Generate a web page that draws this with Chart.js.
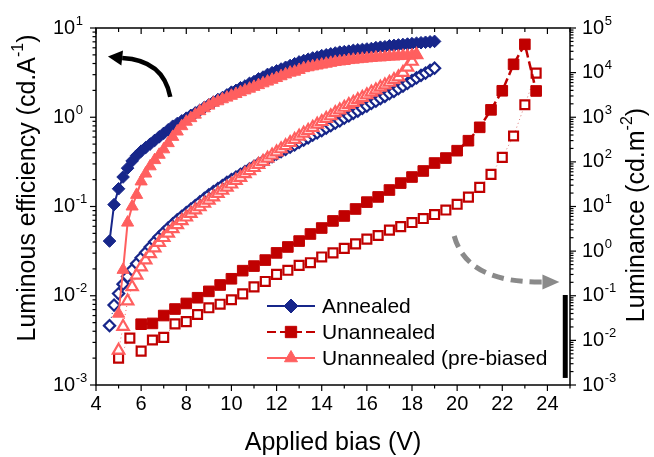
<!DOCTYPE html>
<html>
<head>
<meta charset="utf-8">
<title>Luminous efficiency and luminance vs applied bias</title>
<script src="https://cdn.jsdelivr.net/npm/chart.js@4.4.0/dist/chart.umd.min.js"></script>
<style>
  html, body { margin: 0; padding: 0; background: #fff; }
  #chart { display: block; }
</style>
</head>
<body>
<canvas id="chart" width="654" height="457"></canvas>
<script>
// ===========================
// Data
// ===========================
const annealedBias = [4.6, 4.8, 5.0, 5.2, 5.4, 5.6, 5.8, 6.0, 6.2, 6.4, 6.6, 6.8, 7.0, 7.2, 7.4, 7.6, 7.8, 8.0, 8.2, 8.4,
  8.6, 8.8, 9.0, 9.2, 9.4, 9.6, 9.8, 10.0, 10.2, 10.4, 10.6, 10.8, 11.0, 11.2, 11.4, 11.6, 11.8, 12.0, 12.2, 12.4,
  12.6, 12.8, 13.0, 13.2, 13.4, 13.6, 13.8, 14.0, 14.2, 14.4, 14.6, 14.8, 15.0, 15.2, 15.4, 15.6, 15.8, 16.0, 16.2, 16.4,
  16.6, 16.8, 17.0, 17.2, 17.4, 17.6, 17.8, 18.0, 18.2, 18.4, 18.6, 18.8, 19.0];
const annealedEff = [0.041, 0.105, 0.158, 0.214, 0.269, 0.324, 0.372, 0.417, 0.457, 0.501,
  0.550, 0.603, 0.661, 0.724, 0.794, 0.851, 0.912, 0.977, 1.05, 1.12,
  1.20, 1.29, 1.38, 1.48, 1.58, 1.66, 1.78, 1.91, 2.00, 2.14,
  2.24, 2.40, 2.51, 2.69, 2.82, 3.02, 3.16, 3.31, 3.47, 3.63,
  3.80, 3.98, 4.17, 4.32, 4.47, 4.62, 4.73, 4.90, 5.01, 5.13,
  5.25, 5.37, 5.43, 5.50, 5.62, 5.69, 5.75, 5.82, 5.89, 6.03,
  6.10, 6.17, 6.31, 6.38, 6.46, 6.53, 6.61, 6.68, 6.76, 6.84,
  6.92, 7.00, 7.08];
const annealedLum = [0.0214, 0.0617, 0.112, 0.182, 0.269, 0.380, 0.525, 0.708, 0.933, 1.23,
  1.62, 2.09, 2.63, 3.31, 4.07, 5.01, 6.03, 7.24, 8.71, 10.5,
  12.6, 15.1, 18.2, 21.4, 25.1, 29.5, 34.7, 39.8, 45.7, 52.5,
  60.3, 69.2, 79.4, 91.2, 102, 117, 132, 151, 170, 191,
  214, 240, 275, 309, 347, 398, 447, 501, 575, 646,
  741, 832, 955, 1070, 1230, 1380, 1590, 1780, 2040, 2290,
  2630, 2950, 3390, 3800, 4370, 5010, 5750, 6610, 7590, 8710,
  9770, 11200, 12600];

const unannealedEffBias = [6.0, 6.5, 7.0, 7.5, 8.0, 8.5, 9.0, 9.5, 10.0, 10.5, 11.0, 11.5, 12.0, 12.5, 13.0, 13.5,
  14.0, 14.5, 15.0, 15.5, 16.0, 16.5, 17.0, 17.5, 18.0, 18.5, 19.0, 19.5, 20.0, 20.5, 21.0, 21.5, 22.0, 22.5, 23.0, 23.5];
const unannealedEff = [0.0048, 0.0049, 0.0060, 0.0071, 0.0082, 0.0095, 0.0112, 0.0132, 0.0155, 0.0191,
  0.0215, 0.0251, 0.0302, 0.0352, 0.0410, 0.0492, 0.0574, 0.0689, 0.0783, 0.0938,
  0.112, 0.128, 0.153, 0.183, 0.214, 0.250, 0.307, 0.349, 0.422, 0.546,
  0.771, 1.21, 1.98, 3.92, 6.56, 1.97];
const unannealedLumBias = [5.0, 5.5, 6.0, 6.5, 7.0, 7.5, 8.0, 8.5, 9.0, 9.5, 10.0, 10.5, 11.0, 11.5, 12.0, 12.5,
  13.0, 13.5, 14.0, 14.5, 15.0, 15.5, 16.0, 16.5, 17.0, 17.5, 18.0, 18.5, 19.0, 19.5, 20.0, 20.5, 21.0, 21.5,
  22.0, 22.5, 23.0, 23.5];
const unannealedLum = [0.0040, 0.0112, 0.00575, 0.0102, 0.0117, 0.0234, 0.0263, 0.0380, 0.0537, 0.0646,
  0.0813, 0.110, 0.158, 0.209, 0.302, 0.372, 0.479, 0.550, 0.741, 0.912,
  1.15, 1.45, 1.86, 2.24, 2.95, 3.55, 4.37, 5.37, 6.61, 8.32,
  11.2, 16.2, 26.9, 52.5, 126, 380, 1905, 9772];

const prebiasedBias = [5.0, 5.2, 5.4, 5.6, 5.8, 6.0, 6.2, 6.4, 6.6, 6.8, 7.0, 7.2, 7.4, 7.6, 7.8, 8.0, 8.2, 8.4,
  8.6, 8.8, 9.0, 9.2, 9.4, 9.6, 9.8, 10.0, 10.2, 10.4, 10.6, 10.8, 11.0, 11.2, 11.4, 11.6, 11.8, 12.0, 12.2, 12.4,
  12.6, 12.8, 13.0, 13.2, 13.4, 13.6, 13.8, 14.0, 14.2, 14.4, 14.6, 14.8, 15.0, 15.2, 15.4, 15.6, 15.8, 16.0, 16.2,
  16.4, 16.6, 16.8, 17.0, 17.2, 17.4, 17.6, 17.8, 18.0, 18.2];
const prebiasedEff = [0.0063, 0.0195, 0.066, 0.100, 0.135, 0.191, 0.234, 0.282, 0.331, 0.380,
  0.437, 0.513, 0.603, 0.692, 0.794, 0.891, 0.977, 1.07, 1.17, 1.26,
  1.35, 1.45, 1.51, 1.59, 1.66, 1.74, 1.82, 1.91, 2.00, 2.09,
  2.19, 2.29, 2.40, 2.51, 2.63, 2.75, 2.88, 3.02, 3.16, 3.24,
  3.39, 3.55, 3.63, 3.72, 3.80, 3.89, 3.98, 4.07, 4.17, 4.22,
  4.27, 4.37, 4.42, 4.47, 4.52, 4.57, 4.62, 4.68, 4.68, 4.73,
  4.79, 4.79, 4.84, 4.90, 4.90, 4.96, 5.01];
const prebiasedLum = [0.0060, 0.0204, 0.0759, 0.158, 0.288, 0.437, 0.631, 0.871, 1.17, 1.55,
  2.00, 2.51, 3.16, 3.89, 4.79, 5.75, 6.92, 8.32, 9.77, 11.7,
  13.8, 16.2, 19.5, 22.9, 26.9, 31.6, 38.0, 44.7, 53.7, 63.1,
  74.1, 87.1, 102, 120, 141, 166, 195, 229, 269, 316,
  372, 437, 501, 589, 692, 794, 933, 1070, 1260, 1450,
  1660, 1910, 2140, 2450, 2750, 3160, 3630, 4070, 4680, 5250,
  6030, 6920, 7940, 10000, 13200, 17800, 25100];

// tick labels
const xTicks = [4, 6, 8, 10, 12, 14, 16, 18, 20, 22, 24];
const effExponents = [-3, -2, -1, 0, 1];
const lumExponents = [-3, -2, -1, 0, 1, 2, 3, 4, 5];
const seriesLabels = ["Annealed", "Unannealed", "Unannealed (pre-biased"];

// ===========================
// Styles
// ===========================
const NAVY = "#17268a";
const DARKRED = "#c00000";
const SALMON = "#ff5f5f";
const FONT = '"Liberation Sans", Arial, sans-serif';

function pts(xs, ys) {
    return xs.map((x, i) => ({ x: x, y: ys[i] }));
}

// ===========================
// Helper drawing functions
// ===========================
function drawMarker(ctx, style, x, y, r) {
    ctx.beginPath();
    if (style === "rectRot") {
        ctx.moveTo(x - r, y); ctx.lineTo(x, y - r); ctx.lineTo(x + r, y); ctx.lineTo(x, y + r);
    } else if (style === "rect") {
        const s = r * Math.SQRT1_2;
        ctx.rect(x - s, y - s, 2 * s, 2 * s);
    } else {
        ctx.moveTo(x, y - r); ctx.lineTo(x + 0.866 * r, y + 0.5 * r); ctx.lineTo(x - 0.866 * r, y + 0.5 * r);
    }
    ctx.closePath();
    ctx.fill();
    ctx.stroke();
}

function powerLabel(ctx, x, y, exp) {
    ctx.textAlign = "left";
    ctx.textBaseline = "middle";
    ctx.font = "20px " + FONT;
    ctx.fillText("10", x, y);
    const w = ctx.measureText("10").width;
    ctx.font = "13px " + FONT;
    ctx.fillText(String(exp), x + w + 0.5, y - 7);
}

function supTitle(ctx, cx, cy, pre, sup, post, size) {
    const big = size + "px " + FONT, small = Math.round(size * 0.62) + "px " + FONT;
    ctx.save();
    ctx.translate(cx, cy);
    ctx.rotate(-Math.PI / 2);
    ctx.textAlign = "left";
    ctx.textBaseline = "middle";
    ctx.font = big;
    const w1 = ctx.measureText(pre).width, w3 = ctx.measureText(post).width;
    ctx.font = small;
    const w2 = ctx.measureText(sup).width;
    let x = -(w1 + w2 + w3) / 2;
    ctx.font = big; ctx.fillText(pre, x, 0); x += w1;
    ctx.font = small; ctx.fillText(sup, x, -size * 0.36); x += w2;
    ctx.font = big; ctx.fillText(post, x, 0);
    ctx.restore();
}

function curvedArrow(ctx, p0, p1, p2, tip, color, width, dash, head) {
    ctx.save();
    ctx.strokeStyle = color;
    ctx.fillStyle = color;
    ctx.lineWidth = width;
    ctx.setLineDash(dash);
    ctx.beginPath();
    ctx.moveTo(p0.x, p0.y);
    ctx.quadraticCurveTo(p1.x, p1.y, p2.x, p2.y);
    ctx.stroke();
    ctx.setLineDash([]);
    const ang = Math.atan2(tip.y - p2.y, tip.x - p2.x);
    ctx.beginPath();
    ctx.moveTo(tip.x, tip.y);
    ctx.lineTo(p2.x + Math.sin(ang) * head, p2.y - Math.cos(ang) * head);
    ctx.lineTo(p2.x - Math.sin(ang) * head, p2.y + Math.cos(ang) * head);
    ctx.closePath();
    ctx.fill();
    ctx.restore();
}

// ===========================
// Frame, ticks, labels, legend, arrows
// ===========================
const decorPlugin = {
    id: "decor",
    afterDraw(chart) {
        const ctx = chart.ctx;
        const a = chart.chartArea;
        const sx = chart.scales.x, sy = chart.scales.y, sr = chart.scales.y2;
        ctx.save();
        ctx.strokeStyle = "#000";
        ctx.fillStyle = "#000";
        ctx.lineWidth = 1.5;
        ctx.strokeRect(a.left, a.top, a.right - a.left, a.bottom - a.top);

        const line = (x1, y1, x2, y2) => { ctx.beginPath(); ctx.moveTo(x1, y1); ctx.lineTo(x2, y2); ctx.stroke(); };
        ctx.lineWidth = 1.2;

        // x ticks: bottom outward, top inward
        for (let v = sx.min; v <= sx.max; v++) {
            const px = sx.getPixelForValue(v);
            const major = xTicks.includes(v);
            line(px, a.bottom, px, a.bottom + (major ? 6 : 3.5));
            line(px, a.top, px, a.top + (major ? 6 : 4));
        }
        // log ticks left and right, outward
        const logTicks = (scale, exps, x0, dir) => {
            exps.forEach((e, i) => {
                const p = scale.getPixelForValue(Math.pow(10, e));
                line(x0, p, x0 + dir * 6, p);
                if (i < exps.length - 1) {
                    for (let m = 2; m <= 9; m++) {
                        const q = scale.getPixelForValue(m * Math.pow(10, e));
                        line(x0, q, x0 + dir * 3.5, q);
                    }
                }
            });
        };
        logTicks(sy, effExponents, a.left, -1);
        logTicks(sr, lumExponents, a.right, 1);

        // tick labels
        ctx.font = "20px " + FONT;
        ctx.textAlign = "center";
        ctx.textBaseline = "middle";
        xTicks.forEach(v => ctx.fillText(String(v), sx.getPixelForValue(v), a.bottom + 19));
        effExponents.forEach(e => powerLabel(ctx, a.left - 43, sy.getPixelForValue(Math.pow(10, e)), e));
        lumExponents.forEach(e => powerLabel(ctx, a.right + 12, sr.getPixelForValue(Math.pow(10, e)), e));

        // axis titles
        ctx.font = "25px " + FONT;
        ctx.textAlign = "center";
        ctx.fillText("Applied bias (V)", (a.left + a.right) / 2, 443);
        supTitle(ctx, 28, 188, "Luminous efficiency (cd.A", "-1", ")", 25);
        supTitle(ctx, 637, 215, "Luminance (cd.m", "-2", ")", 25);

        // arrows (placed in data units)
        const P = (s, xv, yv) => ({ x: sx.getPixelForValue(xv), y: s.getPixelForValue(yv) });
        curvedArrow(ctx, P(sy, 7.29, 1.69), P(sy, 6.98, 4.37), P(sy, 5.16, 4.61), P(sy, 4.53, 4.8),
            "#000", 4.5, [], 7.5);
        curvedArrow(ctx, P(sr, 19.87, 2.18), P(sr, 20.44, 0.193), P(sr, 23.78, 0.203), P(sr, 24.53, 0.203),
            "#8a8a8a", 5, [12, 7], 7.5);

        // black bar at the right of the legend
        const b0 = P(sr, 24.68, 0.104), b1 = P(sr, 24.9, 0.00144);
        ctx.fillStyle = "#000";
        ctx.fillRect(b0.x, b0.y, b1.x - b0.x, b1.y - b0.y);

        // legend
        const legendRows = [
            { ds: chart.data.datasets[0], y: 306, r: 7 },
            { ds: chart.data.datasets[2], y: 332, r: 8 },
            { ds: chart.data.datasets[4], y: 358, r: 7.5 }
        ];
        legendRows.forEach(row => {
            const ds = row.ds;
            ctx.save();
            ctx.strokeStyle = ds.borderColor;
            ctx.lineWidth = 2;
            ctx.setLineDash(ds.borderDash || []);
            line(267, row.y, 315, row.y);
            ctx.setLineDash([]);
            ctx.fillStyle = ds.pointBackgroundColor;
            ctx.strokeStyle = ds.pointBorderColor;
            ctx.lineWidth = 1;
            drawMarker(ctx, ds.pointStyle, 291, row.y, row.r);
            ctx.fillStyle = "#000";
            ctx.font = "21px " + FONT;
            ctx.textAlign = "left";
            ctx.textBaseline = "middle";
            ctx.fillText(ds.label, 322, row.y + 1);
            ctx.restore();
        });
        ctx.restore();
    }
};

// ===========================
// Chart
// ===========================
const hidden = { ticks: { display: false }, grid: { display: false }, border: { display: false } };

new Chart(document.getElementById("chart"), {
    type: "line",
    data: {
        datasets: [
            {
                label: seriesLabels[0], data: pts(annealedBias, annealedEff), yAxisID: "y",
                borderColor: NAVY, borderWidth: 2, pointStyle: "rectRot", pointRadius: 6.3,
                pointBackgroundColor: NAVY, pointBorderColor: NAVY, pointBorderWidth: 1, order: 5
            },
            {
                label: seriesLabels[0] + " L", data: pts(annealedBias, annealedLum), yAxisID: "y2",
                borderColor: NAVY, borderWidth: 1, borderDash: [1, 3], pointStyle: "rectRot", pointRadius: 5.6,
                pointBackgroundColor: "#ffffff", pointBorderColor: NAVY, pointBorderWidth: 2.2, order: 6
            },
            {
                label: seriesLabels[1], data: pts(unannealedEffBias, unannealedEff), yAxisID: "y",
                borderColor: DARKRED, borderWidth: 2.5, borderDash: [9, 4], pointStyle: "rect", pointRadius: 7.5,
                pointBackgroundColor: DARKRED, pointBorderColor: DARKRED, pointBorderWidth: 1, order: 3
            },
            {
                label: seriesLabels[1] + " L", data: pts(unannealedLumBias, unannealedLum), yAxisID: "y2",
                borderColor: "rgba(192,0,0,0.55)", borderWidth: 1, borderDash: [1, 3], pointStyle: "rect", pointRadius: 6.3,
                pointBackgroundColor: "#ffffff", pointBorderColor: DARKRED, pointBorderWidth: 2.2, order: 4
            },
            {
                label: seriesLabels[2], data: pts(prebiasedBias, prebiasedEff), yAxisID: "y",
                borderColor: SALMON, borderWidth: 2, pointStyle: "triangle", pointRadius: 7,
                pointBackgroundColor: SALMON, pointBorderColor: SALMON, pointBorderWidth: 1, order: 1
            },
            {
                label: seriesLabels[2] + " L", data: pts(prebiasedBias, prebiasedLum), yAxisID: "y2",
                borderColor: SALMON, borderWidth: 1, borderDash: [1, 3], pointStyle: "triangle", pointRadius: 6.6,
                pointBackgroundColor: "#ffffff", pointBorderColor: SALMON, pointBorderWidth: 2.2, order: 2
            }
        ]
    },
    options: {
        responsive: false,
        animation: false,
        devicePixelRatio: 1,
        layout: { padding: { top: 28, left: 0, right: 0, bottom: 0 } },
        plugins: { legend: { display: false }, tooltip: { enabled: false } },
        elements: { line: { tension: 0 } },
        scales: {
            x: Object.assign({ type: "linear", min: 4, max: 25, afterFit: s => { s.height = 72; } }, hidden),
            y: Object.assign({ type: "logarithmic", position: "left", min: 1e-3, max: 10, afterFit: s => { s.width = 96; } }, hidden),
            y2: Object.assign({ type: "logarithmic", position: "right", min: 1e-3, max: 1e5, afterFit: s => { s.width = 84; } }, hidden)
        }
    },
    plugins: [decorPlugin]
});
</script>
</body>
</html>
